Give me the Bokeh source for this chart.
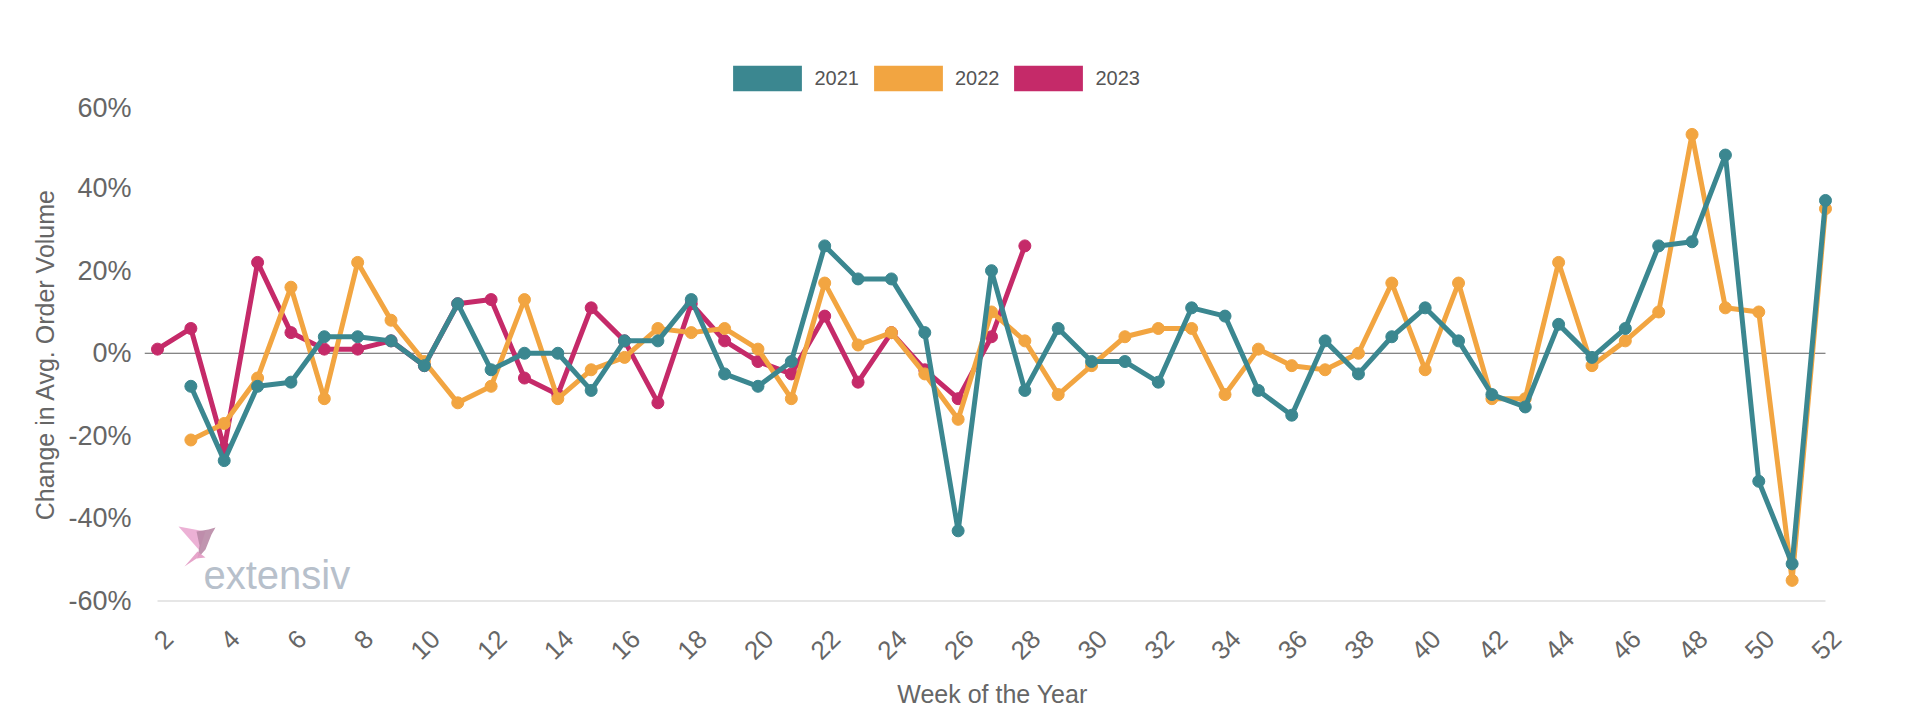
import math
from bokeh.plotting import figure
from bokeh.layouts import column
from bokeh.models import (Range1d, FixedTicker, PrintfTickFormatter, Label,
                          LinearAxis, Legend, LegendItem)
from bokeh.embed import file_html
from bokeh.resources import INLINE

# ---------------- data ----------------
series_names = ["2021", "2022", "2023"]
series_colors = ["#3b8790", "#f2a541", "#c52a69"]

weeks_2021 = list(range(3, 53))
vals_2021 = [-8, -26, -8, -7, 4, 4, 3, -3, 12, -4, 0, 0, -9, 3, 3, 13, -5, -8, -2, 26,
             18, 18, 5, -43, 20, -9, 6, -2, -2, -7, 11, 9, -9, -15, 3, -5, 4, 11, 3, -10,
             -13, 7, -1, 6, 26, 27, 48, -31, -51, 37]

weeks_2022 = list(range(3, 53))
vals_2022 = [-21, -17, -6, 16, -11, 22, 8, -2, -12, -8, 13, -11, -4, -1, 6, 5, 6, 1, -11, 17,
             2, 5, -5, -16, 10, 3, -10, -3, 4, 6, 6, -10, 1, -3, -4, 0, 17, -4, 17, -11,
             -11, 22, -3, 3, 10, 53, 11, 10, -55, 35]

weeks_2023 = list(range(2, 29))
vals_2023 = [1, 6, -23, 22, 5, 1, 1, 3, -3, 12, 13, -6, -10, 11, 3, -12, 12, 3, -2, -5,
             9, -7, 5, -4, -11, 4, 26]

x_ticks = list(range(2, 53, 2))
y_ticks = [-60, -40, -20, 0, 20, 40, 60]

x_title = "Week of the Year"
y_title = "Change in Avg. Order Volume"
logo_text = "extensiv"

# ---------------- layout ----------------
W = 1912
STRIP = 92                 # height of the legend strip
FT = 105                   # frame top on the page
X0, X1 = 1.61, 52.45
Y0, Y1 = -60.6, 60
FW, FH = 1696, 498
FL = 144                   # frame left on the page
BOTTOM = 112
FONT = "Liberation Sans"
NAN = float("nan")

# ---- legend strip ----
lf = figure(frame_width=W, frame_height=STRIP, x_range=Range1d(0, 1), y_range=Range1d(0, 1),
            x_axis_location=None, y_axis_location=None,
            output_backend="svg", toolbar_location=None,
            min_border_left=0, min_border_right=0, min_border_top=0, min_border_bottom=0)
lf.outline_line_color = None
lf.grid.grid_line_color = None
items = []
for name, col in zip(series_names, series_colors):
    r = lf.quad(left=[NAN], right=[NAN], top=[NAN], bottom=[NAN],
                fill_color=col, line_color=None)
    items.append(LegendItem(label=name, renderers=[r]))
lg = Legend(items=items)
lg.orientation = "horizontal"
lg.location = (724.4, STRIP - 94)
lg.padding = 0
lg.margin = 0
lg.spacing = 6
lg.glyph_width = 86
lg.glyph_height = 32
lg.label_standoff = 4
lg.label_text_font = FONT
lg.label_text_font_size = "20px"
lg.label_text_color = "#555555"
lg.label_text_baseline = "middle"
lg.border_line_color = None
lg.background_fill_alpha = 0
lf.add_layout(lg, "center")

# ---- main chart ----
p = figure(frame_width=FW, frame_height=FH,
           x_range=Range1d(X0, X1), y_range=Range1d(Y0, Y1),
           x_axis_location=None,
           output_backend="svg", toolbar_location=None,
           min_border_left=FL, min_border_right=W - FL - FW,
           min_border_top=FT - STRIP, min_border_bottom=BOTTOM)
p.outline_line_color = None
p.background_fill_color = "white"
p.border_fill_color = "white"
p.grid.grid_line_color = None

# y axis
ya = p.yaxis[0]
ya.ticker = FixedTicker(ticks=y_ticks)
ya.formatter = PrintfTickFormatter(format="%d%%")
ya.axis_line_color = None
ya.major_tick_line_color = None
ya.minor_tick_line_color = None
ya.major_label_standoff = 7
ya.major_label_text_font = FONT
ya.major_label_text_font_size = "27px"
ya.major_label_text_color = "#666666"
ya.axis_label = y_title
ya.axis_label_text_font = FONT
ya.axis_label_text_font_size = "25px"
ya.axis_label_text_font_style = "normal"
ya.axis_label_text_color = "#666666"
ya.axis_label_standoff = 6

# x axis (label range slightly shifted so rotated labels centre on their weeks)
shift = 0.33
p.extra_x_ranges = {"lab": Range1d(X0 - shift, X1 - shift)}
xa = LinearAxis(x_range_name="lab", ticker=FixedTicker(ticks=x_ticks))
xa.axis_line_color = None
xa.major_tick_line_color = None
xa.minor_tick_line_color = None
xa.major_label_orientation = math.pi / 4
xa.major_label_standoff = 25
xa.major_label_text_font = FONT
xa.major_label_text_font_size = "26px"
xa.major_label_text_color = "#666666"
xa.axis_label = x_title
xa.axis_label_text_font = FONT
xa.axis_label_text_font_size = "25px"
xa.axis_label_text_font_style = "normal"
xa.axis_label_text_color = "#666666"
xa.axis_label_standoff = 9
p.add_layout(xa, "below")

# baseline and zero line
p.segment(x0=[x_ticks[0]], y0=[y_ticks[0]], x1=[x_ticks[-1]], y1=[y_ticks[0]],
          line_color="#e6e6e6", line_width=2)
p.segment(x0=[X0], y0=[0], x1=[x_ticks[-1]], y1=[0], line_color="#5e5e5e", line_width=1)

# logo watermark
def px(xp, yp):
    return (X0 + (xp - FL) / FW * (X1 - X0), Y1 - (yp - FT) / FH * (Y1 - Y0))

bird = [
    ([(178, 526), (205, 531), (199, 550)], "#eaa9d0"),
    ([(196, 531), (208, 529), (215, 527), (211, 534), (205, 549), (197, 558), (199, 545)], "#b98aa6"),
    ([(184, 566), (197, 551), (205, 557), (196, 558)], "#e39bc4"),
]
for pts, col in bird:
    conv = [px(a, b) for a, b in pts]
    p.patch([c[0] for c in conv], [c[1] for c in conv], fill_color=col, line_color=None,
            fill_alpha=0.9)
lx, ly = px(203, 574)
p.add_layout(Label(x=lx, y=ly, text=logo_text, text_font=FONT, text_font_size="40px",
                   text_color="#b7c0cb", text_align="left", text_baseline="alphabetic"))

# series (2023 bottom, 2021 top)
data = [(weeks_2021, vals_2021), (weeks_2022, vals_2022), (weeks_2023, vals_2023)]
for (wk, vals), col in reversed(list(zip(data, series_colors))):
    p.line(wk, vals, line_color=col, line_width=5, line_join="round")
    p.scatter(wk, vals, size=12, fill_color=col, line_color=col)

layout = column(lf, p, spacing=0)
open("out.html", "w").write(file_html(layout, INLINE))
